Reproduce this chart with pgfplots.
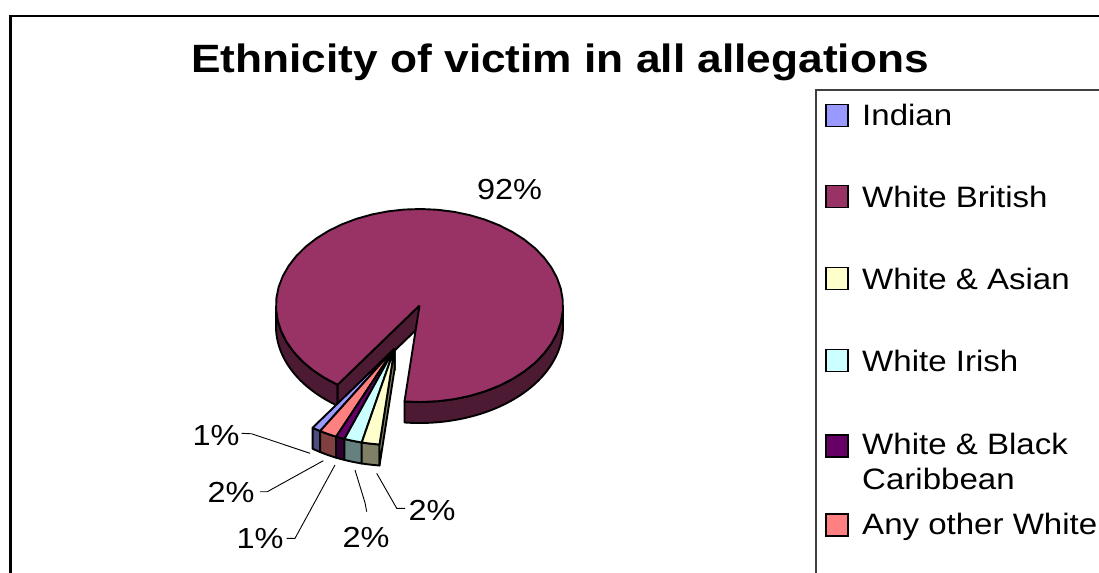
\documentclass[border=0pt]{standalone}
\usepackage{fontspec}
\setmainfont[FakeStretch=1.12]{Liberation Sans}
\usepackage{pgfplots}
\pgfplotsset{compat=1.18}

\definecolor{cInd}{HTML}{9999FF}\definecolor{cIndS}{HTML}{4D4D80}
\definecolor{cWB}{HTML}{993366}\definecolor{cWBS}{HTML}{4D1A33}
\definecolor{cWA}{HTML}{FFFFCC}\definecolor{cWAS}{HTML}{808066}
\definecolor{cWI}{HTML}{CCFFFF}\definecolor{cWIS}{HTML}{668080}
\definecolor{cWBC}{HTML}{660066}\definecolor{cWBCS}{HTML}{330033}
\definecolor{cAOW}{HTML}{FF8080}\definecolor{cAOWS}{HTML}{804040}

% data: percentage of allegations by ethnicity of victim
\def\pInd{1}   % Indian
\def\pWB{92}   % White British
\def\pWA{2}    % White & Asian
\def\pWI{2}    % White Irish
\def\pWBC{1}   % White & Black Caribbean
\def\pAOW{2}   % Any other White

% slice angles (counter-clockwise, degrees)
\pgfmathsetmacro\aWAh{264}
\pgfmathsetmacro\aWAl{\aWAh-3.6*\pWA}
\pgfmathsetmacro\aWIl{\aWAl-3.6*\pWI}
\pgfmathsetmacro\aWBCl{\aWIl-3.6*\pWBC}
\pgfmathsetmacro\aAOWl{\aWBCl-3.6*\pAOW}
\pgfmathsetmacro\aIndl{\aAOWl-3.6*\pInd}
\pgfmathsetmacro\aWBh{\aWAh+3.6*\pWB}

% geometry (pixels)
\def\R{143.5}\def\Rb{96.5}\def\D{21}
\def\lw{1.9bp}

\newcommand{\ptop}[5]{%
\addplot[fill=#5, draw=black, line width=\lw, line join=round, variable=\t, domain=0:3, samples=151]
 ({#1+\R*(min(\t,1)-max(\t-2,0))*cos(#3+(#4-#3)*min(max(\t-1,0),1))},
  {#2-\Rb*(min(\t,1)-max(\t-2,0))*sin(#3+(#4-#3)*min(max(\t-1,0),1))});
}
\newcommand{\pside}[5]{%
\addplot[fill=#5, draw=black, line width=\lw, line join=round, variable=\t, domain=0:4, samples=201]
 ({#1+\R*cos(#3+(#4-#3)*(min(\t,1)-min(max(\t-2,0),1)))},
  {#2-\Rb*sin(#3+(#4-#3)*(min(\t,1)-min(max(\t-2,0),1)))+\D*(min(max(\t-1,0),1)-max(\t-3,0))});
}
\newcommand{\pface}[4]{%
\addplot[fill=#4, draw=black, line width=\lw, line join=round, variable=\t, domain=0:4, samples=5]
 ({#1+\R*(min(\t,1)-min(max(\t-2,0),1))*cos(#3)},
  {#2-\Rb*(min(\t,1)-min(max(\t-2,0),1))*sin(#3)+\D*(min(max(\t-1,0),1)-max(\t-3,0))});
}
\newcommand{\slice}[6]{% cx cy alow ahigh top side
\pside{#1}{#2}{#3}{#4}{#6}
\pface{#1}{#2}{#4}{#6}
\ptop{#1}{#2}{#3}{#4}{#5}
}

\begin{document}
\begin{tikzpicture}
\useasboundingbox (0,0) rectangle (1099bp,573bp);
\clip (0,0) rectangle (1099bp,573bp);
\fill[white] (0,0) rectangle (1099bp,573bp);
\begin{axis}[at={(0,0)}, anchor=south west, scale only axis,
  width=1099bp, height=573bp, xmin=0, xmax=1099, ymin=0, ymax=573,
  y dir=reverse, hide axis, clip=false]

% main slice: White British
\pside{419.5}{305.5}{180}{\aIndl}{cWBS}
\pside{419.5}{305.5}{\aWAh}{360}{cWBS}
\pface{419.5}{305.5}{\aIndl}{cWBS}
\ptop{419.5}{305.5}{\aWAh}{\aWBh}{cWB}

% exploded small slices
\slice{394.5}{348.5}{\aIndl}{\aAOWl}{cInd}{cIndS}
\slice{394.5}{348.5}{\aAOWl}{\aWBCl}{cAOW}{cAOWS}
\slice{394.5}{348.5}{\aWBCl}{\aWIl}{cWBC}{cWBCS}
\slice{394.5}{348.5}{\aWIl}{\aWAl}{cWI}{cWIS}
\slice{394.5}{348.5}{\aWAl}{\aWAh}{cWA}{cWAS}

% chart frame
\draw[line width=2.3bp] (axis cs:1200,15.7) -- (axis cs:10.5,15.7) -- (axis cs:10.5,700);

% title
\node[anchor=base, inner sep=0, font=\fontsize{39.5bp}{46bp}\selectfont\bfseries]
  at (axis cs:560,72.7) {Ethnicity of victim in all allegations};

% data labels
\begin{scope}[every node/.style={anchor=base, inner sep=0, font=\fontsize{29bp}{34bp}\selectfont}]
\node at (axis cs:509.5,199) {92\%};
\node at (axis cs:216,445) {1\%};
\node at (axis cs:231,502) {2\%};
\node at (axis cs:260,548) {1\%};
\node at (axis cs:366,547) {2\%};
\node at (axis cs:432,520) {2\%};
\end{scope}
\begin{scope}[line width=0.9bp]
\draw (axis cs:241.7,433.3) -- (axis cs:251.7,433.8) -- (axis cs:310,453.3);
\draw (axis cs:260,491.7) -- (axis cs:267.3,491.7) -- (axis cs:323.3,460.7);
\draw (axis cs:286.7,538.3) -- (axis cs:295,538.3) -- (axis cs:335,465);
\draw (axis cs:366.7,511.7) -- (axis cs:365,502.7) -- (axis cs:355,470);
\draw (axis cs:405,508.3) -- (axis cs:396.7,508.3) -- (axis cs:376.7,473.3);
\end{scope}

% legend
\draw[line width=1.3bp, black!75] (axis cs:1200,90) -- (axis cs:816,90) -- (axis cs:816,700);
\begin{scope}[every node/.style={anchor=base west, inner sep=0, font=\fontsize{29.5bp}{35bp}\selectfont}]
\draw[fill=cInd, line width=1.4bp] (axis cs:826,104.5) rectangle (axis cs:848,126.5);
\node at (axis cs:862,125) {Indian};
\draw[fill=cWB, line width=1.4bp] (axis cs:826,185.5) rectangle (axis cs:848,207.5);
\node at (axis cs:862,207) {White British};
\draw[fill=cWA, line width=1.4bp] (axis cs:826,267.5) rectangle (axis cs:848,289.5);
\node at (axis cs:862,289) {White \& Asian};
\draw[fill=cWI, line width=1.4bp] (axis cs:826,349.5) rectangle (axis cs:848,371.5);
\node at (axis cs:862,371) {White Irish};
\draw[fill=cWBC, line width=1.4bp] (axis cs:826,435) rectangle (axis cs:848,457);
\node at (axis cs:862,454) {White \& Black};
\node at (axis cs:862,489) {Caribbean};
\draw[fill=cAOW, line width=1.4bp] (axis cs:826,514) rectangle (axis cs:848,536);
\node at (axis cs:862,534) {Any other White};
\end{scope}
\end{axis}
\end{tikzpicture}
\end{document}
